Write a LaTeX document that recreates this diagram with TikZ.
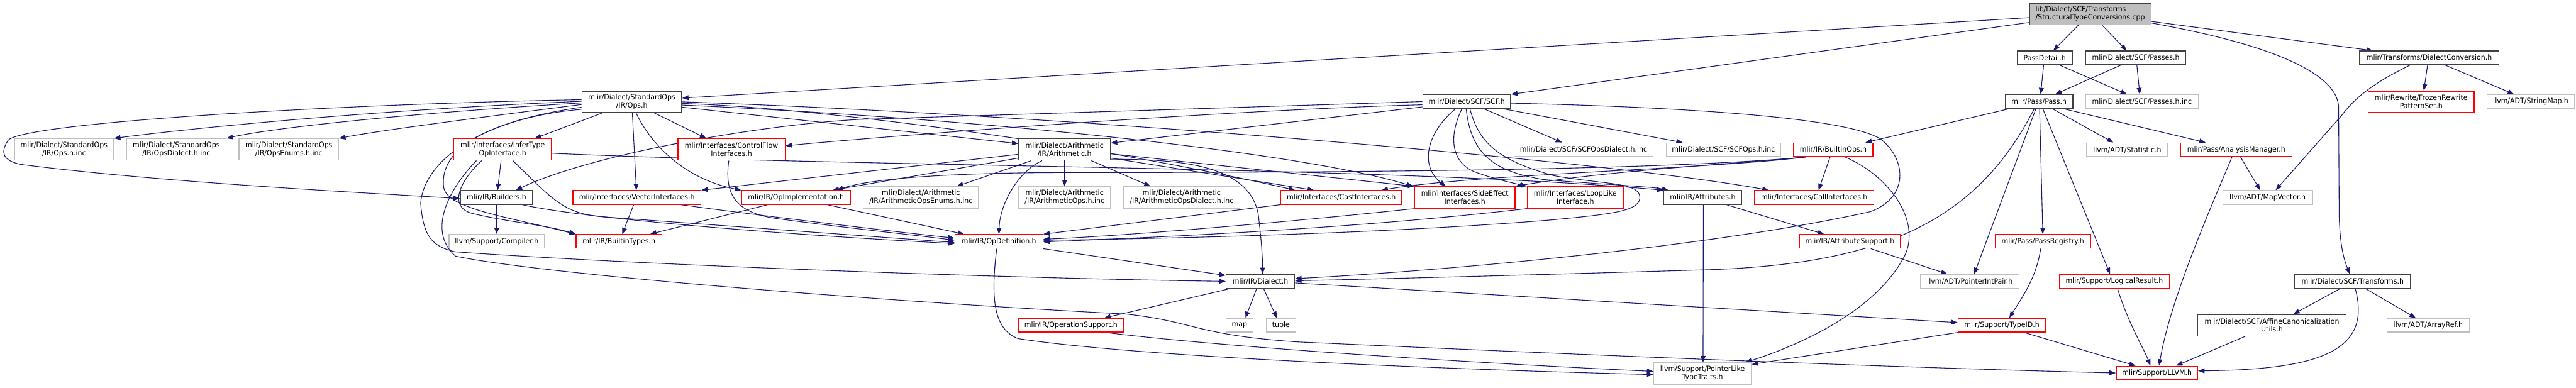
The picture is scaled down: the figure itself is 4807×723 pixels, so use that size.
\documentclass[tikz,border=0pt]{standalone}
\usepackage{fontspec}
\setmainfont{DejaVu Sans}[FakeStretch=0.94]
\usetikzlibrary{arrows.meta}
\definecolor{edgec}{HTML}{191970}
\definecolor{dkb}{HTML}{404040}
\definecolor{grb}{HTML}{BFBFBF}
\definecolor{rdb}{HTML}{FF0000}
\definecolor{rootf}{HTML}{BFBFBF}
\newcommand\dgfont{\fontsize{13.7pt}{15pt}\selectfont}
\pgfdeclarelayer{bg}
\pgfsetlayers{bg,main}
\tikzset{
  nbox/.style={rectangle, inner sep=0pt, minimum height=25.5pt, line width=1.6pt, fill=white, align=center, font=\dgfont},
  bk/.style={nbox, draw=dkb},
  rd/.style={nbox, draw=rdb},
  gy/.style={nbox, draw=grb},
  two/.style={minimum height=40pt},
  lnk/.style={draw=edgec, line width=1.3pt, -{Triangle[length=12pt,width=9pt]}},
}
\begin{document}
\begin{tikzpicture}[x=1pt,y=-1pt]
\useasboundingbox (0,0) rectangle (4807,723);
% nodes
\node[bk,two,align=left,fill=rootf,minimum width=227pt] (root) at (3900.5,26) {lib/Dialect/SCF/Transforms\\/StructuralTypeConversions.cpp};
\node[bk,minimum width=103pt] (pd) at (3815.5,108) {PassDetail.h};
\node[bk,minimum width=187pt] (sp) at (3985.5,108) {mlir/Dialect/SCF/Passes.h};
\node[bk,minimum width=260pt] (dc) at (4533,108) {mlir/Transforms/DialectConversion.h};
\node[bk,two,minimum width=186pt] (so) at (1179,190) {mlir/Dialect/StandardOps\\/IR/Ops.h};
\node[bk,minimum width=164pt] (scf) at (2737,189.5) {mlir/Dialect/SCF/SCF.h};
\node[bk,minimum width=126pt] (pass) at (3805,189.5) {mlir/Pass/Pass.h};
\node[gy,minimum width=210pt] (pinc) at (3997,189.5) {mlir/Dialect/SCF/Passes.h.inc};
\node[rd,two,minimum width=198pt] (frz) at (4518,190) {mlir/Rewrite/FrozenRewrite\\PatternSet.h};
\node[gy,minimum width=163pt] (smap) at (4722.5,189.5) {llvm/ADT/StringMap.h};
\node[gy,two,minimum width=185pt] (oinc) at (119.5,279) {mlir/Dialect/StandardOps\\/IR/Ops.h.inc};
\node[gy,two,minimum width=186pt] (odinc) at (329,279) {mlir/Dialect/StandardOps\\/IR/OpsDialect.h.inc};
\node[gy,two,minimum width=186pt] (oeinc) at (539,279) {mlir/Dialect/StandardOps\\/IR/OpsEnums.h.inc};
\node[rd,two,minimum width=182pt] (inf) at (938,279) {mlir/Interfaces/InferType\\OpInterface.h};
\node[rd,two,minimum width=200pt] (cf) at (1365,279) {mlir/Interfaces/ControlFlow\\Interfaces.h};
\node[bk,two,minimum width=171pt] (ar) at (1986.5,279) {mlir/Dialect/Arithmetic\\/IR/Arithmetic.h};
\node[gy,minimum width=260pt] (sod) at (2955,279.5) {mlir/Dialect/SCF/SCFOpsDialect.h.inc};
\node[gy,minimum width=214pt] (sops) at (3216,279.5) {mlir/Dialect/SCF/SCFOps.h.inc};
\node[rd,minimum width=148pt] (bo) at (3421,279.5) {mlir/IR/BuiltinOps.h};
\node[gy,minimum width=151pt] (stat) at (3969.5,279.5) {llvm/ADT/Statistic.h};
\node[rd,minimum width=208pt] (am) at (4173,279.5) {mlir/Pass/AnalysisManager.h};
\node[bk,minimum width=135pt] (bld) at (926.5,368.5) {mlir/IR/Builders.h};
\node[rd,minimum width=239pt] (vi) at (1188.5,368.5) {mlir/Interfaces/VectorInterfaces.h};
\node[rd,minimum width=203pt] (oi) at (1485.5,368.5) {mlir/IR/OpImplementation.h};
\node[gy,two,minimum width=215pt] (aoe) at (1718.5,368.5) {mlir/Dialect/Arithmetic\\/IR/ArithmeticOpsEnums.h.inc};
\node[gy,two,minimum width=171pt] (ao) at (1986.5,368.5) {mlir/Dialect/Arithmetic\\/IR/ArithmeticOps.h.inc};
\node[gy,two,minimum width=218pt] (aod) at (2205,368.5) {mlir/Dialect/Arithmetic\\/IR/ArithmeticOpsDialect.h.inc};
\node[rd,minimum width=226pt] (cast) at (2503,368.5) {mlir/Interfaces/CastInterfaces.h};
\node[rd,two,minimum width=187pt] (se) at (2733.5,368.5) {mlir/Interfaces/SideEffect\\Interfaces.h};
\node[rd,two,minimum width=179pt] (ll) at (2939.5,368.5) {mlir/Interfaces/LoopLike\\Interface.h};
\node[bk,minimum width=145pt] (attr) at (3177.5,368.5) {mlir/IR/Attributes.h};
\node[rd,minimum width=223pt] (ci) at (3385.5,368.5) {mlir/Interfaces/CallInterfaces.h};
\node[gy,minimum width=167pt] (mv) at (4231.5,368.5) {llvm/ADT/MapVector.h};
\node[gy,minimum width=178pt] (comp) at (927,450.5) {llvm/Support/Compiler.h};
\node[rd,minimum width=160pt] (bt) at (1155,450.5) {mlir/IR/BuiltinTypes.h};
\node[rd,minimum width=164pt] (od) at (1864,450.5) {mlir/IR/OpDefinition.h};
\node[rd,minimum width=188pt] (as) at (3452,450.5) {mlir/IR/AttributeSupport.h};
\node[rd,minimum width=178pt] (pr) at (3812,450.5) {mlir/Pass/PassRegistry.h};
\node[bk,minimum width=128pt] (dia) at (2352,525) {mlir/IR/Dialect.h};
\node[gy,minimum width=184pt] (pip) at (3676,525) {llvm/ADT/PointerIntPair.h};
\node[rd,minimum width=205pt] (lr) at (3945.5,525) {mlir/Support/LogicalResult.h};
\node[bk,minimum width=216pt] (st) at (4390,525) {mlir/Dialect/SCF/Transforms.h};
\node[rd,minimum width=195pt] (ops) at (1998.5,607) {mlir/IR/OperationSupport.h};
\node[gy,minimum width=50pt] (map) at (2313,607) {map};
\node[gy,minimum width=55pt] (tuple) at (2390.5,607) {tuple};
\node[rd,minimum width=163pt] (tid) at (3735.5,607) {mlir/Support/TypeID.h};
\node[bk,two,minimum width=277pt] (aff) at (4239.5,607) {mlir/Dialect/SCF/AffineCanonicalization\\Utils.h};
\node[gy,minimum width=154pt] (arr) at (4531,607) {llvm/ADT/ArrayRef.h};
\node[gy,two,minimum width=182pt] (plt) at (3177,697) {llvm/Support/PointerLike\\TypeTraits.h};
\node[rd,minimum width=152pt] (llvm) at (4025,696) {mlir/Support/LLVM.h};

\begin{pgfonlayer}{bg}
\fill[white] (0,0) rectangle (4807,723);
% root
\draw[lnk] ([yshift=-7pt]root.west) -- ([yshift=7pt]so.east);
\draw[lnk] ([yshift=-16pt]root.west) -- (scf.north east);
\draw[lnk] ([xshift=-22pt]root.south) -- ([xshift=16pt]pd.north);
\draw[lnk] ([xshift=22pt]root.south) -- ([xshift=-17pt]sp.north);
\draw[lnk] ([yshift=-14pt]root.east) -- ([xshift=-105pt]dc.north);
\draw[lnk] ([yshift=-17pt]root.east) .. controls (4250,85) and (4362,140) .. (4364,200) -- (4365,400) .. controls (4366,450) and (4372,480) .. ([xshift=-5pt]st.north);
% pass detail / passes
\draw[lnk] ([xshift=-2pt]pd.south) -- ([xshift=3pt]pass.north);
\draw[lnk] ([xshift=28pt]pd.south) -- ([xshift=-28pt]pinc.north);
\draw[lnk] ([xshift=-28pt]sp.south) -- ([xshift=30pt]pass.north);
\draw[lnk] ([xshift=2pt]sp.south) -- ([xshift=-4pt]pinc.north);
\draw[lnk] ([xshift=-3pt]dc.south) -- ([xshift=5pt]frz.north);
\draw[lnk] ([xshift=30pt]dc.south) -- ([xshift=-31pt]smap.north);
\draw[lnk] ([xshift=-36pt]dc.south) .. controls (4440,150) and (4400,175) .. (4370,215) -- ([xshift=15pt]mv.north);
% pass
\draw[lnk] ([xshift=-56pt]pass.south) -- ([xshift=60pt]bo.north);
\draw[lnk] ([xshift=25pt]pass.south) -- ([xshift=-26pt]stat.north);
\draw[lnk] ([xshift=46pt]pass.south) -- ([xshift=-57pt]am.north);
\draw[lnk] ([xshift=1pt]pass.south) -- (pr.north);
\draw[lnk] ([xshift=7pt]pass.south) -- ([xshift=-8pt]lr.north);
\draw[lnk] ([xshift=-6pt]pass.south) -- ([xshift=8pt]pip.north);
\draw[lnk] ([xshift=-9pt]pass.south) .. controls (3690,410) and (3520,490) .. (3200,503) .. controls (2900,512) and (2600,520) .. ([yshift=1pt]dia.east);
% lower right
\draw[lnk] ([xshift=8pt]am.south) -- ([xshift=-14pt]mv.north);
\draw[lnk] ([xshift=-8pt]am.south) .. controls (4120,400) and (4050,560) .. ([xshift=4pt]llvm.north);
\draw[lnk] ([xshift=6pt]lr.south) .. controls (3970,600) and (4000,650) .. ([xshift=-12pt]llvm.north);
\draw[lnk] ([xshift=-4pt]pr.south) .. controls (3800,520) and (3770,560) .. ([xshift=14pt]tid.north);
\draw[lnk] (tid.south west) -- ([yshift=17pt]plt.east);
\draw[lnk] ([xshift=42pt]tid.south) -- ([xshift=-40pt]llvm.north);
\draw[lnk] ([yshift=-3pt]dia.east) -- ([yshift=5pt]tid.west);
\draw[lnk] ([xshift=-56pt]dia.south) -- ([xshift=62pt]ops.north);
\draw[lnk] ([xshift=-7pt]dia.south) -- ([xshift=11pt]map.north);
\draw[lnk] ([xshift=6pt]dia.south) -- ([xshift=-8pt]tuple.north);
\draw[lnk] ([xshift=65pt]ops.south) .. controls (2300,650) and (2800,680) .. ([yshift=4pt]plt.west);
\draw[lnk] ([xshift=-4pt]od.south) .. controls (1848,560) and (1855,615) .. (1900,632) .. controls (2150,670) and (2800,692) .. ([yshift=-2pt]plt.west);
\draw[lnk] (od.south east) -- ([yshift=11pt]dia.west);
\draw[lnk] ([xshift=-49pt]inf.south) .. controls (840,350) and (795,430) .. (850,478) .. controls (1000,510) and (1600,560) .. (2100,586) .. controls (2230,600) and (2230,625) .. (2420,638) .. controls (2900,660) and (3500,685) .. (llvm.west);
% StandardOps Ops.h
\draw[lnk] ([yshift=-14pt]so.west) .. controls (900,220) and (790,300) .. (785,380) .. controls (790,440) and (805,460) .. (850,470) .. controls (1200,495) and (1900,520) .. (dia.west);
\draw[lnk] ([yshift=-10pt]so.west) .. controls (880,230) and (820,290) .. (828,350) .. controls (835,390) and (950,405) .. (bt.north west);
\draw[lnk] ([xshift=-39pt]inf.south) .. controls (860,335) and (835,385) .. (880,398) .. controls (950,415) and (1020,420) .. (bt.north west);
\draw[lnk] ([yshift=4pt]so.west) .. controls (600,195) and (40,230) .. (15,262) .. controls (0,285) and (5,300) .. (40,307) .. controls (300,340) and (650,358) .. ([yshift=-2pt]bld.west);
\draw[lnk] ([yshift=1pt]so.west) .. controls (700,205) and (350,240) .. (oinc.north east);
\draw[lnk] ([yshift=-2pt]so.west) .. controls (750,212) and (500,240) .. (odinc.north east);
\draw[lnk] ([yshift=-5pt]so.west) .. controls (850,225) and (700,245) .. (oeinc.north east);
\draw[lnk] ([xshift=-55pt]so.south) -- ([xshift=60pt]inf.north);
\draw[lnk] ([xshift=1pt]so.south) -- ([xshift=-1pt]vi.north);
\draw[lnk] ([xshift=8pt]so.south) .. controls (1205,250) and (1260,330) .. (oi.north west);
\draw[lnk] ([xshift=42pt]so.south) -- ([xshift=-47pt]cf.north);
\draw[lnk] ([yshift=-10pt]so.east) -- ([yshift=11pt]ar.west);
\draw[lnk] ([yshift=-3pt]so.east) .. controls (1500,200) and (2000,260) .. ([xshift=-86pt]cast.north);
\draw[lnk] (so.east) .. controls (2000,215) and (3000,300) .. ([xshift=-85pt]ci.north);
\draw[lnk] ([yshift=-6pt]so.east) .. controls (1900,225) and (2450,290) .. ([xshift=-3pt]se.north west);
% SCF.h
\draw[lnk] (scf.west) -- (1600,223) .. controls (1400,235) and (1100,290) .. ([xshift=36pt]bld.north);
\draw[lnk] ([yshift=-6pt]scf.west) .. controls (2300,205) and (1700,250) .. ([yshift=7pt]cf.east);
\draw[lnk] ([yshift=-10pt]scf.west) -- ([yshift=12pt]ar.east);
\draw[lnk] ([xshift=32pt]scf.south) -- ([xshift=-40pt]sod.north);
\draw[lnk] ([xshift=68pt]scf.south) -- ([xshift=-76pt]sops.north);
\draw[lnk] ([xshift=-21pt]scf.south) .. controls (2660,250) and (2650,310) .. ([xshift=-36pt]se.north);
\draw[lnk] ([xshift=-9pt]scf.south) .. controls (2705,250) and (2705,300) .. (2750,320) .. controls (2790,335) and (2830,343) .. (ll.north west);
\draw[lnk] ([xshift=-1pt]scf.south) .. controls (2745,290) and (2790,320) .. (2880,335) .. controls (3000,345) and (3080,348) .. ([xshift=-64pt]attr.north);
\draw[lnk] ([xshift=6pt]scf.south) .. controls (2760,270) and (2800,300) .. (2900,328) .. controls (3000,345) and (3062,340) .. (3060,370) .. controls (3058,395) and (3000,400) .. (2900,410) .. controls (2600,435) and (2200,445) .. ([yshift=2pt]od.east);
\draw[lnk] ([yshift=-3pt]scf.east) .. controls (3150,200) and (3450,220) .. (3510,260) .. controls (3560,300) and (3560,370) .. (3490,395) .. controls (3200,460) and (2700,505) .. ([yshift=5pt]dia.east);
% Arithmetic
\draw[lnk] ([xshift=-62pt]ar.south) -- ([xshift=67pt]aoe.north);
\draw[lnk] (ar) -- (ao);
\draw[lnk] ([xshift=50pt]ar.south) -- ([xshift=-58pt]aod.north);
\draw[lnk] ([xshift=-42pt]ar.south) .. controls (1900,320) and (1866,380) .. (od.north);
\draw[lnk] ([yshift=-18pt]ar.east) .. controls (2180,298) and (2330,300) .. (2348,400) .. controls (2354,450) and (2356,480) .. ([xshift=4pt]dia.north);
\draw[lnk] ([yshift=-8pt]ar.east) -- (se.north west);
\draw[lnk] ([yshift=-16pt]ar.east) -- ([xshift=-51pt]cast.north);
\draw[lnk] ([yshift=-9pt]ar.west) -- (vi.north east);
\draw[lnk] ([yshift=-16pt]ar.west) -- ([xshift=68pt]oi.north);
% BuiltinOps
\draw[lnk] ([xshift=-6pt]bo.south) -- ([xshift=8pt]ci.north);
\draw[lnk] ([xshift=22pt]bo.south) .. controls (3530,330) and (3590,420) .. (3550,485) .. controls (3490,590) and (3340,650) .. ([xshift=80pt]plt.north);
\draw[lnk] ([xshift=-52pt]bo.south) .. controls (3250,305) and (3000,318) .. (se.north east);
\draw[lnk] ([xshift=-52pt]bo.south) .. controls (3200,315) and (2750,325) .. ([xshift=75pt]cast.north);
\draw[lnk] ([xshift=-52pt]bo.south) .. controls (3100,318) and (2500,322) .. (2000,322) .. controls (1750,322) and (1620,335) .. ([xshift=76pt]oi.north);
% InferType
\draw[lnk] ([xshift=-3pt]inf.south) -- ([xshift=2pt]bld.north);
\draw[lnk] ([xshift=19pt]inf.south) .. controls (1030,370) and (1050,400) .. (1130,405) -- ([yshift=-2pt]od.west);
\draw[lnk] ([yshift=-7pt]inf.east) .. controls (1600,312) and (2600,310) .. (attr.north west);
% ControlFlow, Builders, Vector, OpImpl
\draw[lnk] ([xshift=-5pt]cf.south) .. controls (1350,370) and (1380,398) .. (1450,408) .. controls (1600,428) and (1720,440) .. ([yshift=2pt]od.west);
\draw[lnk] ([xshift=48pt]bld.south) .. controls (1100,410) and (1500,440) .. ([yshift=-4pt]od.west);
\draw[lnk] (bld) -- (comp);
\draw[lnk] ([xshift=-6pt]vi.south) -- ([xshift=6pt]bt.north);
\draw[lnk] ([xshift=82pt]vi.south) .. controls (1400,400) and (1650,430) .. ([yshift=6pt]od.west);
\draw[lnk] ([xshift=-53pt]oi.south) -- ([xshift=58pt]bt.north);
\draw[lnk] ([xshift=58pt]oi.south) -- ([xshift=-65pt]od.north);
% interfaces to OpDefinition
\draw[lnk] (cast.south west) -- (od.north east);
\draw[lnk] (se.south west) .. controls (2400,415) and (2100,440) .. ([yshift=4pt]od.east);
\draw[lnk] (ll.south west) .. controls (2500,430) and (2100,445) .. ([yshift=-1pt]od.east);
% Attributes
\draw[lnk] ([xshift=44pt]attr.south) -- ([xshift=-48pt]as.north);
\draw[lnk] ([xshift=1pt]attr.south) -- ([xshift=1pt]plt.north);
\draw[lnk] ([xshift=39pt]as.south) -- ([xshift=-42pt]pip.north);
% SCF Transforms
\draw[lnk] ([xshift=-23pt]st.south) -- ([xshift=40pt]aff.north);
\draw[lnk] ([xshift=24pt]st.south) -- ([xshift=-23pt]arr.north);
\draw[lnk] ([xshift=5pt]st.south) .. controls (4425,650) and (4340,690) .. ([yshift=4pt]llvm.east);
\draw[lnk] ([xshift=-50pt]aff.south) -- ([xshift=36pt]llvm.north);
\end{pgfonlayer}
\end{tikzpicture}
\end{document}
